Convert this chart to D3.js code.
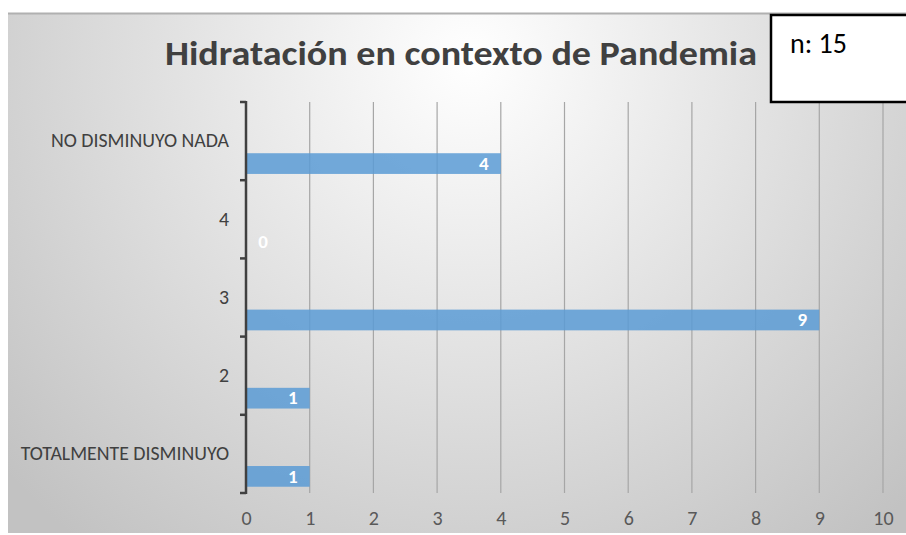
<!DOCTYPE html>
<html>
<head>
<meta charset="utf-8">
<script src="https://cdn.jsdelivr.net/npm/d3@7"></script>
<style>
  body { margin: 0; background: #fff; }
  svg { display: block; }
</style>
</head>
<body>
<svg id="chart" width="906" height="535"></svg>
<script>
// données (de haut en bas)
var categories = ["NO DISMINUYO NADA", "4", "3", "2", "TOTALMENTE DISMINUYO"];
var valeurs = [4, 0, 9, 1, 1];
var ticksX = [0, 1, 2, 3, 4, 5, 6, 7, 8, 9, 10];
var titre = "Hidratación en contexto de Pandemia";
var note = "n: 15";

var data = categories.map(function (c, i) { return {cat: c, val: valeurs[i]}; });

var svg = d3.select("#chart");
var police = "Carlito, Lato, 'Open Sans', sans-serif";

// fond dégradé radial
var defs = svg.append("defs");
var grad = defs.append("radialGradient")
  .attr("id", "fond")
  .attr("gradientUnits", "userSpaceOnUse")
  .attr("cx", 470).attr("cy", 60).attr("r", 620);
grad.append("stop").attr("offset", "0").attr("stop-color", "#ffffff");
grad.append("stop").attr("offset", "1").attr("stop-color", "#c2c2c2");

svg.append("rect")
  .attr("x", 8).attr("y", 13)
  .attr("width", 906 - 8).attr("height", 520)
  .attr("fill", "url(#fond)");
svg.append("line")
  .attr("x1", 8).attr("x2", 906).attr("y1", 13.5).attr("y2", 13.5)
  .attr("stroke", "#b0b0b0").attr("stroke-width", 2);

// échelles
var xScale = d3.scaleLinear().domain([0, 10]).range([246, 883]);
var yScale = d3.scaleBand().domain(categories).range([102, 493]);
var bw = yScale.bandwidth();

// grille verticale
svg.append("g").selectAll("line")
  .data(ticksX.filter(function (d) { return d > 0; }))
  .enter().append("line")
  .attr("x1", function (d) { return xScale(d); })
  .attr("x2", function (d) { return xScale(d); })
  .attr("y1", 102).attr("y2", 493)
  .attr("stroke", "#a6a6a6").attr("stroke-width", 1.2);

// barres
svg.append("g").selectAll("rect")
  .data(data)
  .enter().append("rect")
  .attr("x", xScale(0) + 1)
  .attr("y", function (d) { return yScale(d.cat) + bw * 0.655; })
  .attr("height", bw * 0.265)
  .attr("width", function (d) { return Math.max(0, xScale(d.val) - xScale(0) - 1); })
  .attr("fill", "#5b9bd5")
  .attr("fill-opacity", 0.85);

// étiquettes de valeur
svg.append("g").selectAll("text")
  .data(data)
  .enter().append("text")
  .attr("x", function (d) { return d.val > 0 ? xScale(d.val) - 17 : xScale(0) + 17; })
  .attr("y", function (d) { return yScale(d.cat) + bw * 0.79; })
  .attr("dy", "0.32em")
  .attr("text-anchor", "middle")
  .attr("fill", "#ffffff")
  .style("font-family", police)
  .style("font-weight", "bold")
  .style("font-size", "19px")
  .text(function (d) { return d.val; });

// axe vertical
var yAxis = d3.axisLeft(yScale).tickSize(0).tickPadding(17);
var gy = svg.append("g")
  .attr("transform", "translate(" + xScale(0) + ",0)")
  .call(yAxis);
gy.select(".domain").remove();
gy.selectAll("text")
  .attr("fill", "#404040")
  .style("font-family", police)
  .style("font-size", "19.8px");
gy.append("line")
  .attr("x1", 0).attr("x2", 0).attr("y1", 101).attr("y2", 494)
  .attr("stroke", "#404040").attr("stroke-width", 2.5);
gy.selectAll(".bord")
  .data(categories.map(function (c) { return yScale(c); }).concat([493]))
  .enter().append("line")
  .attr("class", "bord")
  .attr("x1", -6).attr("x2", 0)
  .attr("y1", function (d) { return d; }).attr("y2", function (d) { return d; })
  .attr("stroke", "#404040").attr("stroke-width", 2.5);

// axe horizontal
var xAxis = d3.axisBottom(xScale).tickValues(ticksX).tickSize(0).tickPadding(10.5);
var gx = svg.append("g")
  .attr("transform", "translate(0,500)")
  .call(xAxis);
gx.select(".domain").remove();
gx.selectAll("text")
  .attr("fill", "#595959")
  .style("font-family", police)
  .style("font-size", "20px");

// titre
svg.append("text")
  .attr("x", 461).attr("y", 65)
  .attr("text-anchor", "middle")
  .attr("fill", "#404040")
  .attr("textLength", 592)
  .attr("lengthAdjust", "spacingAndGlyphs")
  .style("font-family", police)
  .style("font-weight", "bold")
  .style("font-size", "34.5px")
  .text(titre);

// encadré n
svg.append("rect")
  .attr("x", 771).attr("y", 15)
  .attr("width", 150).attr("height", 87)
  .attr("fill", "#ffffff")
  .attr("stroke", "#000000").attr("stroke-width", 2.5);
svg.append("text")
  .attr("x", 790).attr("y", 53)
  .attr("fill", "#000000")
  .style("font-family", police)
  .style("font-size", "28px")
  .text(note);
</script>
</body>
</html>
